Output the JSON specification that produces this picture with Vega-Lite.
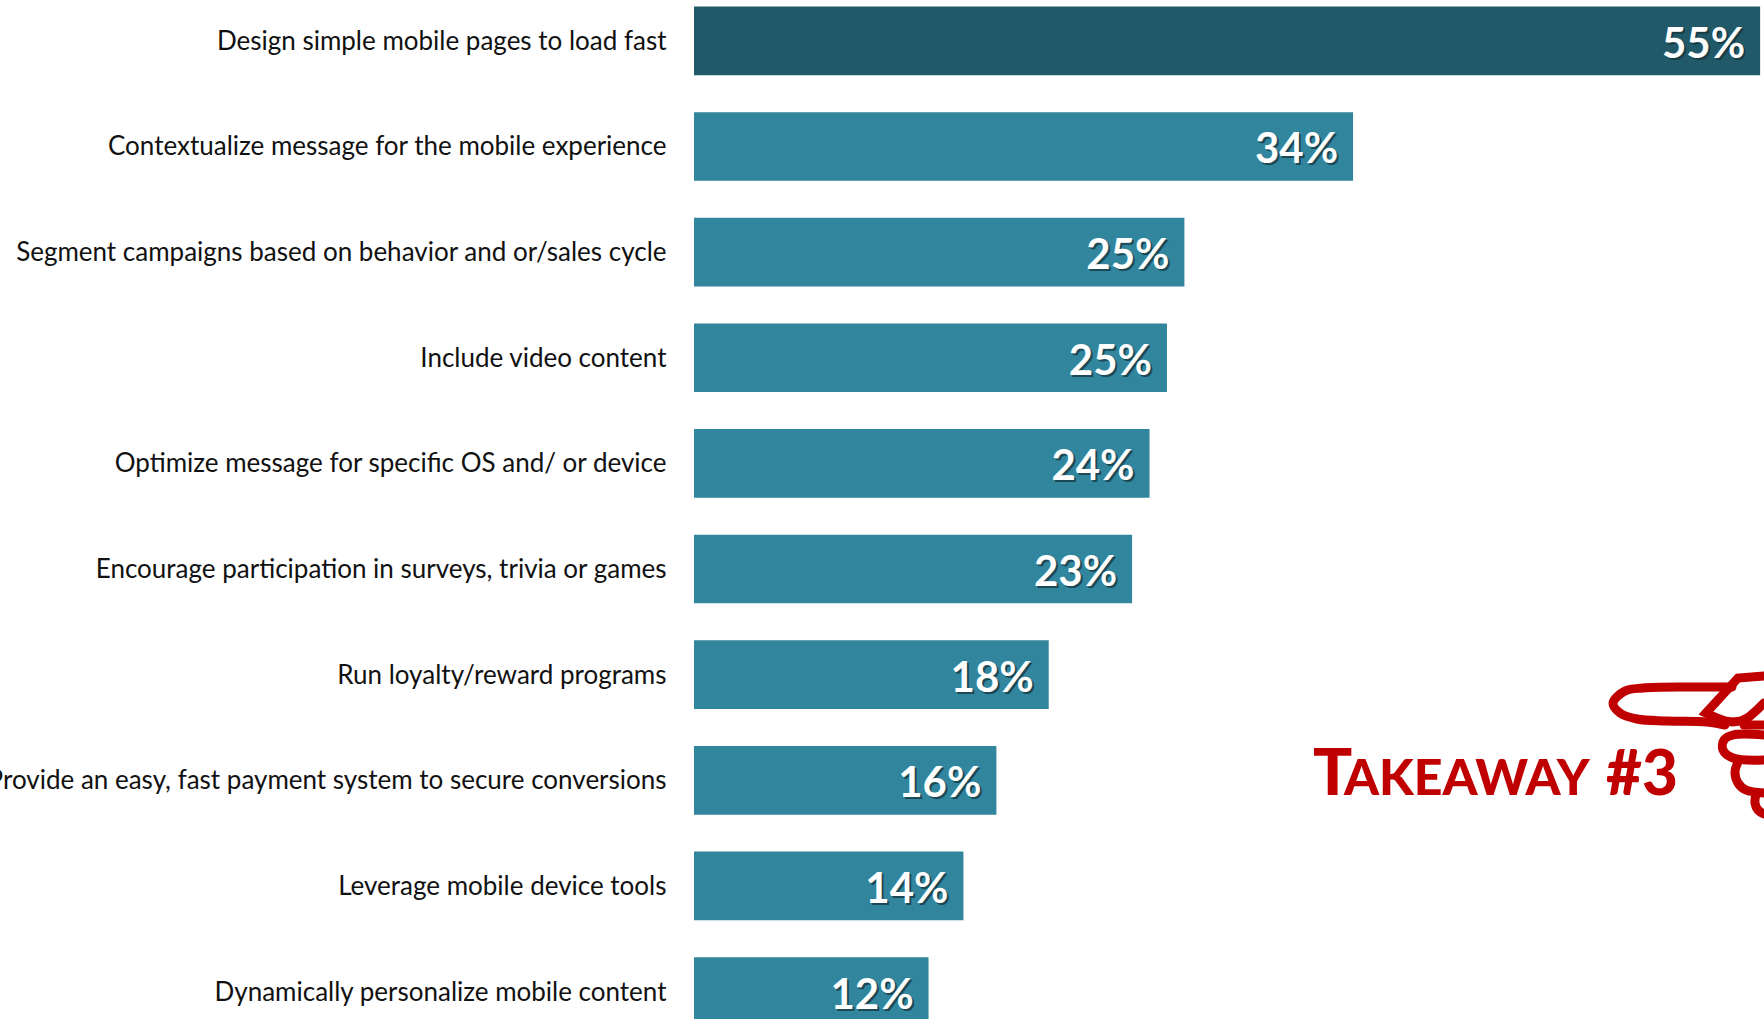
{
"$schema":"https://vega.github.io/schema/vega-lite/v6.json",
"width":1070,"height":1019,
"padding":{"left":694,"top":0,"right":0,"bottom":0},
"autosize":{"type":"none"},
"background":"white",
"config":{"view":{"stroke":null},"font":"Lato"},
"datasets":{
"bars":[
{"item":"Design simple mobile pages to load fast","value":55,"label":"55%","group":"top"},
{"item":"Contextualize message for the mobile experience","value":34,"label":"34%","group":"other"},
{"item":"Segment campaigns based on behavior and or/sales cycle","value":25.3,"label":"25%","group":"other"},
{"item":"Include video content","value":24.4,"label":"25%","group":"other"},
{"item":"Optimize message for specific OS and/ or device","value":23.5,"label":"24%","group":"other"},
{"item":"Encourage participation in surveys, trivia or games","value":22.6,"label":"23%","group":"other"},
{"item":"Run loyalty/reward programs","value":18.3,"label":"18%","group":"other"},
{"item":"Provide an easy, fast payment system to secure conversions","value":15.6,"label":"16%","group":"other"},
{"item":"Leverage mobile device tools","value":13.9,"label":"14%","group":"other"},
{"item":"Dynamically personalize mobile content","value":12.1,"label":"12%","group":"other"}
],
"handStraight":[
{"part":"a","i":1,"hx":1764,"hy":676},{"part":"a","i":2,"hx":1738,"hy":678},{"part":"a","i":3,"hx":1706,"hy":713},{"part":"a","i":4,"hx":1717,"hy":718},{"part":"a","i":5,"hx":1725,"hy":721},{"part":"a","i":6,"hx":1733,"hy":722},{"part":"a","i":7,"hx":1741,"hy":721},{"part":"a","i":8,"hx":1749,"hy":717},{"part":"a","i":9,"hx":1757,"hy":710},{"part":"a","i":10,"hx":1764,"hy":703},
{"part":"b2","i":1,"hx":1744,"hy":725},{"part":"b2","i":2,"hx":1764,"hy":725}
],
"handCurved":[
{"part":"b","i":1,"hx":1732,"hy":687},{"part":"b","i":2,"hx":1690,"hy":687},{"part":"b","i":3,"hx":1643,"hy":688},{"part":"b","i":4,"hx":1625,"hy":691},{"part":"b","i":5,"hx":1613,"hy":703},{"part":"b","i":6,"hx":1620,"hy":713},{"part":"b","i":7,"hx":1637,"hy":719},{"part":"b","i":8,"hx":1667,"hy":721},{"part":"b","i":9,"hx":1707,"hy":722},{"part":"b","i":10,"hx":1725,"hy":725},
{"part":"c","i":1,"hx":1764,"hy":735},{"part":"c","i":2,"hx":1733,"hy":735},{"part":"c","i":3,"hx":1724,"hy":740},{"part":"c","i":4,"hx":1723,"hy":750},{"part":"c","i":5,"hx":1733,"hy":758},{"part":"c","i":6,"hx":1764,"hy":760},
{"part":"d","i":1,"hx":1738,"hy":762},{"part":"d","i":2,"hx":1735,"hy":772},{"part":"d","i":3,"hx":1738,"hy":783},{"part":"d","i":4,"hx":1746,"hy":790},{"part":"d","i":5,"hx":1764,"hy":793},
{"part":"e","i":1,"hx":1756,"hy":794},{"part":"e","i":2,"hx":1755,"hy":803},{"part":"e","i":3,"hx":1758,"hy":810},{"part":"e","i":4,"hx":1764,"hy":814}
]
},
"layer":[
{
"data":{"name":"bars"},
"encoding":{
"y":{"field":"item","type":"nominal","sort":null,"scale":{"range":[-12,1044.4],"paddingInner":0.35,"paddingOuter":0.175},
"axis":{"title":null,"domain":false,"ticks":false,"labelPadding":28,"labelLimit":900,"labelFont":"Lato","labelFontSize":26,"labelOffset":1,"labelColor":"#111111","labelAlign":"right","labelBaseline":"middle"}},
"x":{"field":"value","type":"quantitative","scale":{"domain":[0,55.2]},"axis":null}
},
"layer":[
{"mark":{"type":"bar"},"encoding":{"color":{"field":"group","type":"nominal","scale":{"domain":["top","other"],"range":["#215968","#31859c"]},"legend":null}}},
{"mark":{"type":"text","align":"right","baseline":"middle","font":"Lato","fontWeight":"bold","fontSize":42,"dx":-13,"dy":6,"color":"#123038","opacity":0.7},"encoding":{"text":{"field":"label"}}},
{"mark":{"type":"text","align":"right","baseline":"middle","font":"Lato","fontWeight":"bold","fontSize":42,"dx":-15,"dy":4,"color":"white"},"encoding":{"text":{"field":"label"}}}
]
},
{
"encoding":{
"x":{"field":"hx","type":"quantitative","scale":{"domain":[694,1764]},"axis":null},
"y":{"field":"hy","type":"quantitative","scale":{"domain":[0,1019],"range":[0,1019]},"axis":null}
},
"layer":[
{"data":{"name":"handStraight"},"mark":{"type":"line","color":"#c00000","strokeWidth":9,"strokeCap":"round","strokeJoin":"miter","interpolate":"linear","clip":false},
"encoding":{"detail":{"field":"part"},"order":{"field":"i","type":"quantitative"}}},
{"data":{"name":"handCurved"},"mark":{"type":"line","color":"#c00000","strokeWidth":9,"strokeCap":"round","strokeJoin":"round","interpolate":"catmull-rom","clip":false},
"encoding":{"detail":{"field":"part"},"order":{"field":"i","type":"quantitative"}}},
{"data":{"values":[{"t":"T","hx":1313,"hy":795}]},"mark":{"type":"text","align":"left","baseline":"alphabetic","font":"Lato","fontWeight":900,"fontSize":65,"color":"#c00000"},"encoding":{"text":{"field":"t"}}},
{"data":{"values":[{"t":"AKEAWAY","hx":1344,"hy":795}]},"mark":{"type":"text","align":"left","baseline":"alphabetic","font":"Lato","fontWeight":900,"fontSize":50,"color":"#c00000"},"encoding":{"text":{"field":"t"}}},
{"data":{"values":[{"t":"#3","hx":1678,"hy":795}]},"mark":{"type":"text","align":"right","baseline":"alphabetic","font":"Lato","fontWeight":900,"fontSize":62,"color":"#c00000"},"encoding":{"text":{"field":"t"}}}
]
}
],
"resolve":{"scale":{"x":"independent","y":"independent","color":"independent"},"axis":{"y":"independent"}}
}
